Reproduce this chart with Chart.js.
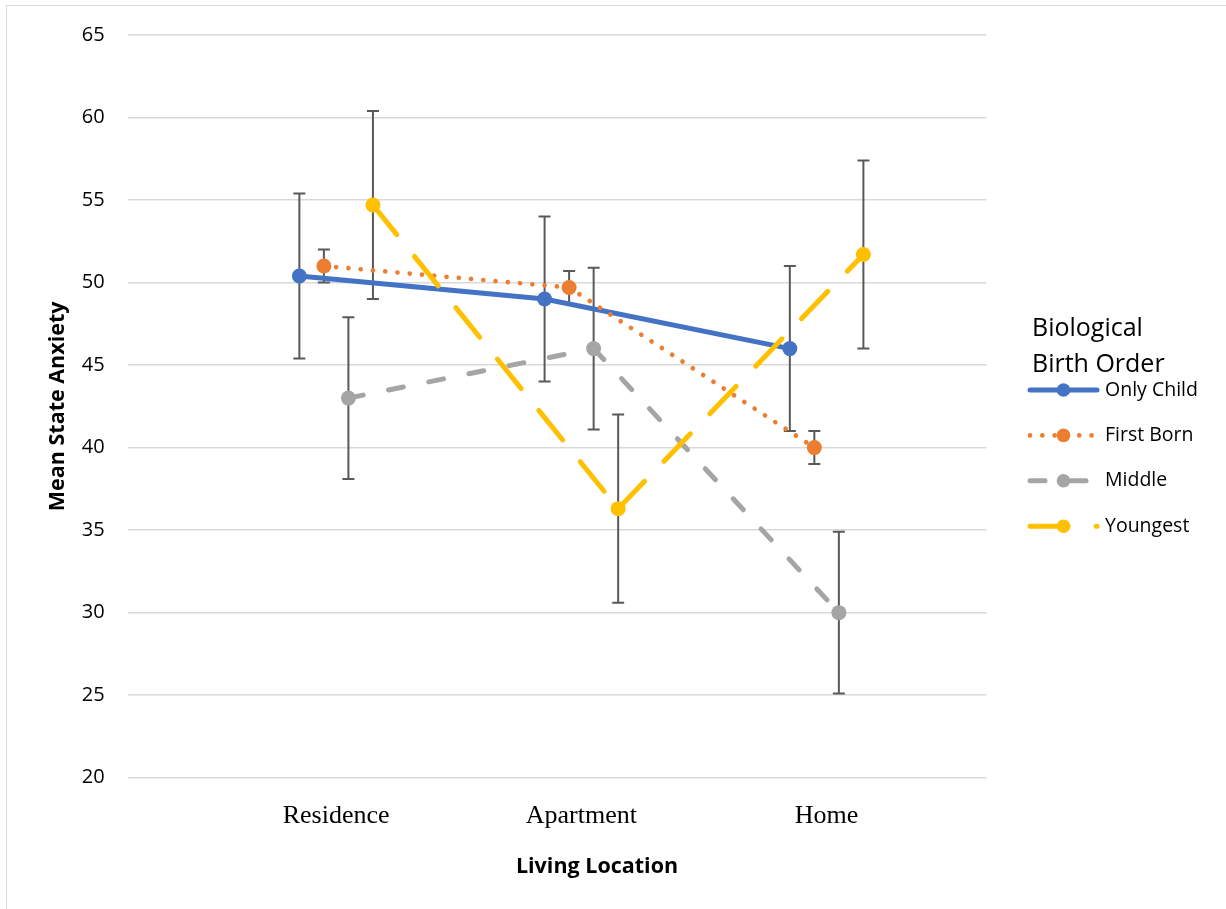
<!DOCTYPE html>
<html>
<head>
<meta charset="utf-8">
<script src="https://cdn.jsdelivr.net/npm/chart.js@4.4.0/dist/chart.umd.min.js"></script>
<style>
  html, body { margin: 0; padding: 0; background: #fff; overflow: hidden; }
  #frame { position: absolute; left: 6px; top: 5px; width: 1400px; height: 1100px; border: 1.5px solid #d9d9d9; }
  #wrap { position: absolute; left: 0; top: 0; width: 1226px; height: 909px; }
</style>
</head>
<body>
<div id="frame"></div>
<div id="wrap"><canvas id="chart" width="1226" height="909"></canvas></div>
<script>
// data
const categories = ['Residence', 'Apartment', 'Home'];
const seriesNames = ['Only Child', 'First Born', 'Middle', 'Youngest'];
const onlyChild = [50.4, 49.0, 46.0];
const firstBorn = [51.0, 49.7, 40.0];
const middle = [43.0, 46.0, 30.0];
const youngest = [54.7, 36.3, 51.7];
const onlyChildErr = [5.0, 5.0, 5.0];
const firstBornErr = [1.0, 1.0, 1.0];
const middleErr = [4.9, 4.9, 4.9];
const youngestErr = [5.7, 5.7, 5.7];
const yTicks = [20, 25, 30, 35, 40, 45, 50, 55, 60, 65];

// styling
const groupOffsets = [-0.15, -0.05, 0.05, 0.15];
const colors = ['#4472C4', '#ED7D31', '#A5A5A5', '#FFC000'];
const widths = [5, 4.7, 5, 5];
const dashes = [[], [0.01, 12.3], [15, 26], [38, 28]];
const textFont = 'Open Sans';

const values = [onlyChild, firstBorn, middle, youngest];
const errors = [onlyChildErr, firstBornErr, middleErr, youngestErr];

const datasets = seriesNames.map((name, s) => ({
    label: name,
    data: values[s].map((v, i) => ({ x: i + 1 + groupOffsets[s], y: v })),
    errors: errors[s],
    borderColor: colors[s],
    backgroundColor: colors[s],
    pointBackgroundColor: colors[s],
    pointBorderWidth: 0,
    pointRadius: 7.5,
    borderWidth: widths[s],
    borderDash: dashes[s],
    borderCapStyle: 'round',
    borderJoinStyle: 'round',
    // restart the dash pattern on every segment, like the original
    segment: { borderDashOffset: c => c.p0DataIndex * 0.001 },
    order: seriesNames.length - s
}));

const errorBars = {
    id: 'errorBars',
    beforeDatasetsDraw(chart) {
        const { ctx, scales: { x, y } } = chart;
        ctx.save();
        ctx.strokeStyle = '#595959';
        ctx.lineWidth = 2;
        chart.data.datasets.forEach(ds => {
            ds.data.forEach((pt, i) => {
                const e = ds.errors[i];
                const px = x.getPixelForValue(pt.x);
                const top = y.getPixelForValue(pt.y + e);
                const bot = y.getPixelForValue(pt.y - e);
                ctx.beginPath();
                ctx.moveTo(px, top); ctx.lineTo(px, bot);
                ctx.moveTo(px - 6, top); ctx.lineTo(px + 6, top);
                ctx.moveTo(px - 6, bot); ctx.lineTo(px + 6, bot);
                ctx.stroke();
            });
        });
        ctx.restore();
    }
};

const sideLegend = {
    id: 'sideLegend',
    afterDraw(chart) {
        const ctx = chart.ctx;
        ctx.save();
        ctx.fillStyle = '#000';
        ctx.textBaseline = 'alphabetic';
        ctx.textAlign = 'left';
        ctx.font = `25px "${textFont}"`;
        ctx.fillText('Biological', 1032, 336);
        ctx.fillText('Birth Order', 1032, 372);

        chart.data.datasets.forEach((ds, i) => {
            const cy = 390 + i * 45.4;
            ctx.save();
            ctx.strokeStyle = ds.borderColor;
            ctx.lineWidth = ds.borderWidth;
            ctx.lineCap = 'round';
            ctx.setLineDash(ds.borderDash);
            ctx.beginPath();
            ctx.moveTo(1030, cy);
            ctx.lineTo(1097, cy);
            ctx.stroke();
            ctx.restore();
            ctx.beginPath();
            ctx.fillStyle = ds.borderColor;
            ctx.arc(1063.5, cy, 6.8, 0, Math.PI * 2);
            ctx.fill();
            ctx.fillStyle = '#000';
            ctx.font = `19.5px "${textFont}"`;
            ctx.textBaseline = 'middle';
            ctx.fillText(ds.label, 1105, cy);
        });

        // x axis title, centred where the original puts it
        ctx.font = `bold 21.5px "${textFont}"`;
        ctx.textAlign = 'center';
        ctx.textBaseline = 'middle';
        ctx.fillStyle = '#000';
        ctx.fillText('Living Location', 597, 867);
        ctx.restore();
    }
};

const chart = new Chart(document.getElementById('chart').getContext('2d'), {
    type: 'line',
    data: { datasets },
    plugins: [errorBars, sideLegend],
    options: {
        responsive: false,
        animation: false,
        layout: { padding: { left: 0, top: 33.6, right: 239.5, bottom: 0 } },
        plugins: {
            legend: { display: false },
            tooltip: { enabled: false }
        },
        scales: {
            x: {
                type: 'linear',
                min: 0.15,
                max: 3.652,
                afterBuildTicks: s => { s.ticks = categories.map((c, i) => ({ value: i + 1 })); },
                afterFit: s => { s.height = 909 - 777.7; },
                grid: { display: false, drawTicks: false },
                border: { display: false },
                ticks: {
                    callback: (v, i) => categories[i],
                    font: { family: 'Liberation Serif', size: 26 },
                    color: '#000',
                    padding: 23,
                    maxRotation: 0,
                    autoSkip: false
                }
            },
            y: {
                min: 20,
                max: 65,
                afterBuildTicks: s => { s.ticks = yTicks.map(v => ({ value: v })); },
                afterFit: s => { s.width = 127.7; },
                grid: { color: '#d9d9d9', lineWidth: 1.4, drawTicks: false },
                border: { display: false },
                ticks: {
                    padding: 23,
                    color: '#000',
                    font: { family: textFont, size: 20 }
                },
                title: {
                    display: true,
                    text: 'Mean State Anxiety',
                    color: '#000',
                    font: { family: textFont, size: 21.5, weight: 'bold' },
                    padding: { top: 45, bottom: 0 }
                }
            }
        }
    }
});
</script>
</body>
</html>
